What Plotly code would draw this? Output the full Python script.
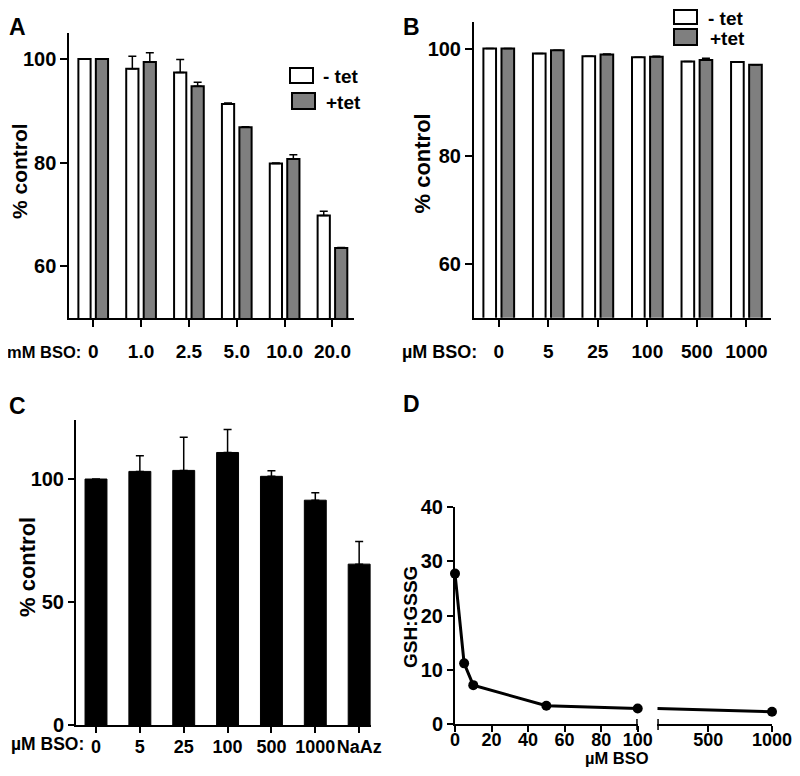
import plotly.graph_objects as go

# ---- data ----
a_doses = ["0", "1.0", "2.5", "5.0", "10.0", "20.0"]
a_minus_tet = [100, 98.1, 97.4, 91.3, 79.8, 69.8]
a_minus_err = [0, 2.4, 2.5, 0.2, 0.1, 0.8]
a_plus_tet = [100, 99.4, 94.7, 86.8, 80.7, 63.5]
a_plus_err = [0, 1.8, 0.8, 0.1, 0.8, 0.1]

b_doses = ["0", "5", "25", "100", "500", "1000"]
b_minus_tet = [100, 99.1, 98.6, 98.4, 97.6, 97.5]
b_minus_err = [0, 0, 0, 0, 0, 0]
b_plus_tet = [100, 99.7, 98.9, 98.5, 97.9, 97.0]
b_plus_err = [0, 0, 0.1, 0.1, 0.3, 0]

c_doses = ["0", "5", "25", "100", "500", "1000", "NaAz"]
c_values = [100, 103.1, 103.5, 110.8, 101.1, 91.4, 65.4]
c_err = [0, 6.4, 13.5, 9.3, 2.3, 3.0, 9.2]

d_bso_low = [0, 5, 10, 50, 100]
d_ratio_low = [27.7, 11.2, 7.2, 3.4, 2.9]
d_bso_high = [100, 1000]
d_ratio_high = [2.9, 2.3]

FONT = "Liberation Sans, Arial, sans-serif"
# page body has an 8px margin: keep the figure small enough that no scrollbars appear
OFF = 8
W, H = 800 - OFF, 776 - 2 * OFF
GRAY = "#7f7f7f"


def fx(px):
    return (px - OFF) / W


def fy(py):
    return 1 - (py - OFF) / H


def err(vals):
    return dict(type="data", array=vals, arrayminus=[0] * len(vals), symmetric=False,
                color="black", thickness=1.5, width=4, visible=True)


fig = go.Figure()

# panel A
fig.add_trace(go.Bar(x=a_doses, y=a_minus_tet, error_y=err(a_minus_err), name="- tet",
                     marker=dict(color="white", line=dict(color="black", width=2)),
                     xaxis="x", yaxis="y", showlegend=False))
fig.add_trace(go.Bar(x=a_doses, y=a_plus_tet, error_y=err(a_plus_err), name="+tet",
                     marker=dict(color=GRAY, line=dict(color="black", width=2)),
                     xaxis="x", yaxis="y", showlegend=False))

# panel B
fig.add_trace(go.Bar(x=b_doses, y=b_minus_tet, error_y=err(b_minus_err), name="- tet",
                     marker=dict(color="white", line=dict(color="black", width=2)),
                     xaxis="x2", yaxis="y2", showlegend=False))
fig.add_trace(go.Bar(x=b_doses, y=b_plus_tet, error_y=err(b_plus_err), name="+tet",
                     marker=dict(color=GRAY, line=dict(color="black", width=2)),
                     xaxis="x2", yaxis="y2", showlegend=False))

# panel C
fig.add_trace(go.Bar(x=c_doses, y=c_values, error_y=err(c_err), width=0.5,
                     marker=dict(color="black", line=dict(color="black", width=1)),
                     xaxis="x3", yaxis="y3", showlegend=False))

# panel D (broken x axis)
fig.add_trace(go.Scatter(x=d_bso_low, y=d_ratio_low, mode="lines+markers",
                         line=dict(color="black", width=3),
                         marker=dict(color="black", size=10, line=dict(width=0)),
                         cliponaxis=False, xaxis="x4", yaxis="y4", showlegend=False))
fig.add_trace(go.Scatter(x=d_bso_high, y=d_ratio_high, mode="lines+markers",
                         line=dict(color="black", width=3),
                         marker=dict(color="black", size=[0, 10], opacity=1, line=dict(width=0)),
                         cliponaxis=False, xaxis="x5", yaxis="y4", showlegend=False))

tickfont_x = dict(family=FONT, size=19, color="black", weight="bold")
tickfont_y = dict(family=FONT, size=20, color="black", weight="bold")

axis_common = dict(showline=True, linecolor="black", linewidth=2, ticks="outside",
                   tickwidth=2, tickcolor="black", ticklen=7, showgrid=False,
                   zeroline=False, fixedrange=True, automargin=False, tickangle=0,
                   ticklabeloverflow="allow")

fig.update_layout(
    template="none",
    width=W, height=H, autosize=False,
    margin=dict(l=0, r=0, t=0, b=0, pad=0),
    paper_bgcolor="white", plot_bgcolor="white",
    barmode="group", bargap=0.27, bargroupgap=0.3,
    showlegend=False,
    font=dict(family=FONT, color="black"),
    xaxis=dict(axis_common, type="category", domain=[fx(69.3), fx(354)], anchor="y",
               range=[-0.5, 5.45], tickfont=tickfont_x, ticklabelstandoff=8),
    yaxis=dict(axis_common, domain=[fy(318), fy(33)], anchor="x", range=[50, 105],
               tickvals=[60, 80, 100], tickfont=tickfont_y),
    xaxis2=dict(axis_common, type="category", domain=[fx(474), fx(770.7)], anchor="y2",
                range=[-0.5, 5.49], tickfont=tickfont_x, ticklabelstandoff=8),
    yaxis2=dict(axis_common, domain=[fy(317.7), fy(21.7)], anchor="x2", range=[50, 105],
                tickvals=[60, 80, 100], tickfont=tickfont_y),
    xaxis3=dict(axis_common, type="category", domain=[fx(76), fx(371)], anchor="y3",
                range=[-0.456, 6.27], tickfont=dict(tickfont_x, size=18), ticklen=6,
                ticklabelstandoff=-2),
    yaxis3=dict(axis_common, domain=[fy(725), fy(420)], anchor="x3", range=[0, 124],
                tickvals=[0, 50, 100], tickfont=tickfont_y, ticklen=6),
    xaxis4=dict(axis_common, domain=[fx(455), fx(637.7)], anchor="y4", range=[0, 100],
                tickvals=[0, 20, 40, 60, 80, 100], tickfont=dict(tickfont_x, size=18),
                ticklen=6, ticklabelstandoff=-8),
    xaxis5=dict(axis_common, domain=[fx(657.3), fx(772)], anchor="y4", range=[100, 1000],
                tickvals=[500, 1000], tickfont=dict(tickfont_x, size=18), ticklen=6,
                ticklabelstandoff=-8),
    yaxis4=dict(axis_common, domain=[fy(724.3), fy(506.7)], anchor="x4", range=[0, 40],
                tickvals=[0, 10, 20, 30, 40], tickfont=tickfont_y, ticklen=6),
)

# axis break caps in panel D
for xr in ["x4", "x5"]:
    fig.add_shape(type="line", xref=xr, yref="paper", x0=100, x1=100,
                  y0=fy(730), y1=fy(719), line=dict(color="black", width=3))

# legends (drawn as key boxes + text)
legend_keys = [
    (290, 68, 313, 83, "white", "- tet", 321),
    (292, 93, 315, 109, GRAY, "+tet", 324),
    (674, 10, 697, 24, "white", "- tet", 706),
    (674, 29, 697, 45, GRAY, "+tet", 708),
]
for x0, y0, x1, y1, col, label, tx in legend_keys:
    fig.add_shape(type="rect", xref="paper", yref="paper", x0=fx(x0), x1=fx(x1),
                  y0=fy(y1), y1=fy(y0), fillcolor=col, line=dict(color="black", width=2))
    fig.add_annotation(xref="paper", yref="paper", x=fx(tx), y=fy((y0 + y1) / 2 + 1),
                       text=label, showarrow=False, xanchor="left", yanchor="middle",
                       font=dict(family=FONT, size=19, color="black", weight="bold"))

bold = dict(family=FONT, color="black", weight="bold")

# panel letters
for letter, cx, cy in [("A", 17, 27), ("B", 412, 27), ("C", 17, 406), ("D", 412, 404)]:
    fig.add_annotation(xref="paper", yref="paper", x=fx(cx), y=fy(cy), text=letter,
                       showarrow=False, xanchor="center", yanchor="middle",
                       font=dict(bold, size=23))

# y axis titles
for text, cx, cy, size in [("% control", 19, 171, 21), ("% control", 421.5, 163, 22),
                           ("% control", 27, 567, 22), ("GSH:GSSG", 410, 617, 19)]:
    fig.add_annotation(xref="paper", yref="paper", x=fx(cx), y=fy(cy), text=text,
                       textangle=-90, showarrow=False, xanchor="center", yanchor="middle",
                       font=dict(bold, size=size))

# dose prefixes on x axes
for text, rx, cy, size in [("mM BSO:", 83, 352, 16.5), ("µM BSO:", 479, 352, 18),
                           ("µM BSO:", 86, 744, 17.5)]:
    fig.add_annotation(xref="paper", yref="paper", x=fx(rx), y=fy(cy), text=text,
                       showarrow=False, xanchor="right", yanchor="middle",
                       font=dict(bold, size=size))
fig.add_annotation(xref="paper", yref="paper", x=fx(617), y=fy(758), text="µM BSO",
                   showarrow=False, xanchor="center", yanchor="middle",
                   font=dict(bold, size=16.5))

fig.write_html("out.html")
